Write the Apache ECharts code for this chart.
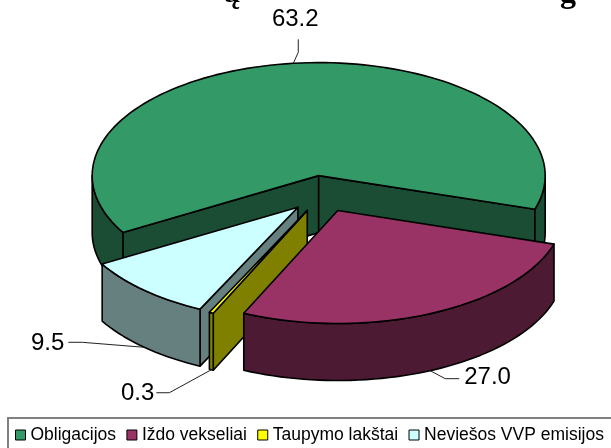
<!DOCTYPE html>
<html><head><meta charset="utf-8">
<style>html,body{margin:0;padding:0;background:#fff}#c{width:611px;height:448px}</style>
<script src="https://cdn.jsdelivr.net/npm/echarts@6/dist/echarts.min.js"></script>
</head><body><div id="c"></div>
<script>
const categories = ['Obligacijos', 'Iždo vekseliai', 'Taupymo lakštai', 'Neviešos VVP emisijos'];
const shares = [63.2, 27.0, 0.3, 9.5];
const topColors = ['#339966', '#993366', '#FFFF00', '#CCFFFF'];
const wallColors = ['#1A4D33', '#4D1A33', '#808000', '#668080'];

// projection of the tilted pie
const CX = 322.8, CY = 193.8, RX = 226.5, RY = 113, DEPTH = 57, EXPLODE = 0.162, START = 149.8;
// leader: elbow relative to rim anchor, then end of the horizontal run; text anchor
const LEADERS = [
  {elbow:[5,-11], end:[5,-24], text:[2,-44], align:'center'},
  {elbow:[15,8], end:[29,8], text:[34,7], align:'left'},
  {elbow:[-42,23], end:[-55,23], text:[-57,24], align:'right'},
  {elbow:[-62,-5], end:[-76,-5], text:[-80,-4], align:'right'}
];
const rad = d => d * Math.PI / 180;
const total = shares.reduce((a, b) => a + b, 0);
const spans = [];
let acc = START;
shares.forEach(v => { const s = v / total * 360; spans.push([acc, acc + s]); acc += s; });

function sliceGroup(i) {
  const [a0, a1] = spans[i], mid = (a0 + a1) / 2;
  const ax = CX + EXPLODE * RX * Math.cos(rad(mid));
  const ay = CY + EXPLODE * RY * Math.sin(rad(mid));
  const pt = (a, drop) => [ax + RX * Math.cos(rad(a)), ay + RY * Math.sin(rad(a)) + (drop || 0)];
  const arc = (s, e, drop) => {
    const n = Math.max(2, Math.ceil((e - s) / 2)), out = [];
    for (let k = 0; k <= n; k++) out.push(pt(s + (e - s) * k / n, drop));
    return out;
  };
  const face = (points, fill) => ({type:'polygon', shape:{points},
    style:{fill, stroke:'#000', lineWidth:1.6, lineJoin:'round'}});
  const kids = [];
  const radial = a => {
    const r = pt(a);
    return face([[ax, ay], r, [r[0], r[1] + DEPTH], [ax, ay + DEPTH]], wallColors[i]);
  };
  if (Math.cos(rad(a0)) < 0) kids.push(radial(a0));
  if (Math.cos(rad(a1)) > 0) kids.push(radial(a1));
  // rim: parts of the arc on the near half
  [[0, 180], [360, 540]].forEach(([lo, hi]) => {
    const s = Math.max(a0, lo), e = Math.min(a1, hi);
    if (e > s) kids.push(face(arc(s, e, 0).concat(arc(s, e, DEPTH).reverse()), wallColors[i]));
  });
  kids.push(face([[ax, ay]].concat(arc(a0, a1, 0)), topColors[i]));
  // leader and value label
  const L = LEADERS[i];
  const front = Math.sin(rad(mid)) > 0;
  const anc = pt(mid, front ? DEPTH : 0);
  kids.push({type:'polyline', shape:{points:[anc, [anc[0]+L.elbow[0], anc[1]+L.elbow[1]], [anc[0]+L.end[0], anc[1]+L.end[1]]]},
    style:{fill:'none', stroke:'#222', lineWidth:1}});
  kids.push({type:'text', style:{text:shares[i].toFixed(1), x:anc[0]+L.text[0], y:anc[1]+L.text[1],
    align:L.align, verticalAlign:'middle', font:'24px "Liberation Sans", Arial, sans-serif', fill:'#000'}});
  return {type:'group', children:kids};
}

const drawOrder = [0, 3, 2, 1];
const chart = echarts.init(document.getElementById('c'), null, {renderer:'canvas'});
chart.setOption({
  animation:false,
  backgroundColor:'#fff',
  legend:{
    data:categories.map((name, i) => ({name, icon:'rect', itemStyle:{color:topColors[i], borderColor:'#000', borderWidth:1}})),
    left:11, top:426, itemWidth:10, itemHeight:10, itemGap:10.3, padding:[0,0,0,4],
    textStyle:{fontFamily:'"Liberation Sans", Arial, sans-serif', fontSize:17.5, color:'#000'},
    selectedMode:false
  },
  graphic:[
    {type:'rect', shape:{x:8, y:418, width:640, height:60}, style:{fill:'none', stroke:'#808080', lineWidth:2}, silent:true},
    {type:'text', x:0, y:0, silent:true, style:{text:'ą', x:224, y:-22, font:'bold 32px "Liberation Serif", serif', fill:'#000'}},
    {type:'text', x:0, y:0, silent:true, style:{text:'g', x:560, y:-22, font:'bold 32px "Liberation Serif", serif', fill:'#000'}}
  ],
  series:drawOrder.map(i => ({
    type:'custom', name:categories[i], coordinateSystem:'none', silent:true, clip:false,
    itemStyle:{color:topColors[i]},
    data:[[shares[i]]],
    renderItem:() => sliceGroup(i)
  }))
});
</script></body></html>
